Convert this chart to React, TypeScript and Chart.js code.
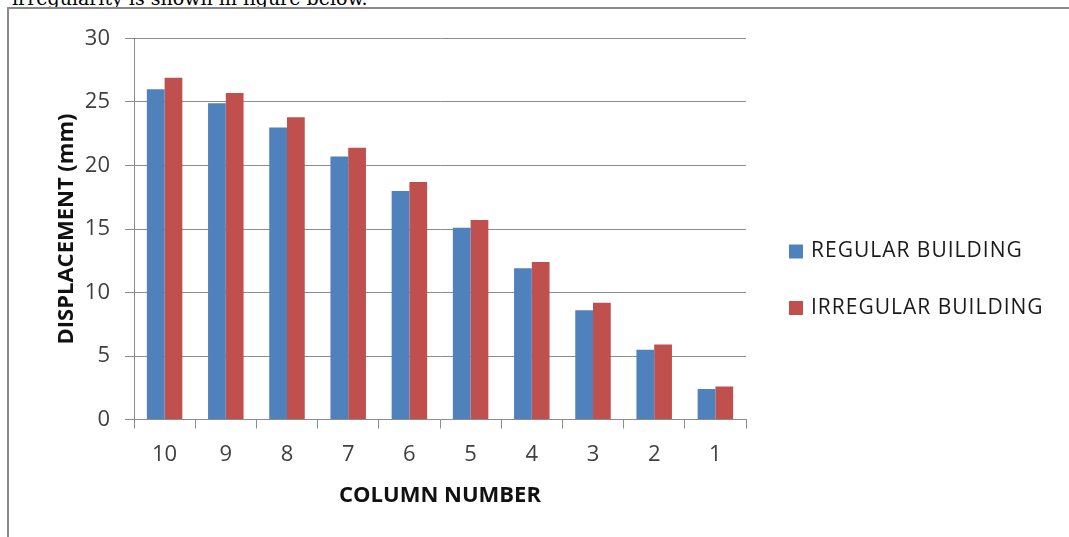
import React, { useEffect, useRef } from 'react';
import { Chart, registerables } from 'chart.js';

Chart.register(...registerables);

const categories = ['10', '9', '8', '7', '6', '5', '4', '3', '2', '1'];
const regularBuilding = [26.0, 24.9, 23.0, 20.7, 18.0, 15.1, 11.9, 8.6, 5.5, 2.4];
const irregularBuilding = [26.9, 25.7, 23.8, 21.4, 18.7, 15.7, 12.4, 9.2, 5.9, 2.6];
const seriesLabels = ['REGULAR BUILDING', 'IRREGULAR BUILDING'];
const seriesColors = ['#4F81BD', '#C0504D'];
const yAxisTitle = 'DISPLACEMENT (mm)';
const xAxisTitle = 'COLUMN NUMBER';
const yMin = 0;
const yMax = 30;
const yStep = 5;
const captionText = 'irregularity is shown in figure below.';

const FONT = '"Open Sans", "DejaVu Sans", sans-serif';
const GRID = '#8c8c8c';

const sideLegend = {
  id: 'sideLegend',
  afterDraw(chart: any) {
    const { ctx, chartArea } = chart;
    const x0 = chartArea.right + 43;
    const mid = (chartArea.top + chartArea.bottom) / 2;
    const rows = [mid + 22.5, mid + 79];
    ctx.save();
    ctx.font = `21px ${FONT}`;
    ctx.textBaseline = 'middle';
    ctx.textAlign = 'left';
    try {
      (ctx as any).letterSpacing = '1px';
    } catch (e) {
      /* ignore */
    }
    chart.data.datasets.forEach((d: any, i: number) => {
      ctx.fillStyle = d.backgroundColor;
      ctx.fillRect(x0, rows[i] - 7, 14, 14);
      ctx.fillStyle = '#1a1a1a';
      ctx.fillText(d.label, x0 + 22, rows[i]);
    });
    ctx.restore();
  },
};

export default function App() {
  const canvasRef = useRef<HTMLCanvasElement | null>(null);

  useEffect(() => {
    const canvas = canvasRef.current;
    if (!canvas) return;
    const chart = new Chart(canvas, {
      type: 'bar',
      data: {
        labels: categories,
        datasets: [
          {
            label: seriesLabels[0],
            data: regularBuilding,
            backgroundColor: seriesColors[0],
            categoryPercentage: 0.58,
            barPercentage: 1.0,
          },
          {
            label: seriesLabels[1],
            data: irregularBuilding,
            backgroundColor: seriesColors[1],
            categoryPercentage: 0.58,
            barPercentage: 1.0,
          },
        ],
      },
      options: {
        animation: false,
        responsive: false,
        maintainAspectRatio: false,
        devicePixelRatio: 1,
        layout: { padding: { left: 54, right: 323, top: 38.5, bottom: 28.5 } },
        plugins: {
          legend: { display: false },
          tooltip: { enabled: false },
        },
        scales: {
          x: {
            grid: {
              display: true,
              drawOnChartArea: false,
              drawTicks: true,
              tickLength: 9,
              color: GRID,
              lineWidth: 1,
            },
            border: { display: true, color: GRID, width: 1 },
            ticks: {
              font: { family: FONT, size: 22 },
              color: '#404040',
              padding: 13,
              maxRotation: 0,
              autoSkip: false,
            },
            title: {
              display: true,
              text: xAxisTitle,
              font: { family: FONT, size: 22, weight: 'bold' },
              color: '#111111',
              padding: 0,
            },
            afterFit(scale: any) {
              scale.height = 89;
            },
          },
          y: {
            min: yMin,
            max: yMax,
            ticks: {
              stepSize: yStep,
              font: { family: FONT, size: 22 },
              color: '#404040',
              padding: 15,
            },
            grid: {
              color: GRID,
              lineWidth: 1,
              tickLength: 9,
            },
            border: { display: true, color: GRID, width: 1 },
            title: {
              display: true,
              text: yAxisTitle,
              font: { family: FONT, size: 22, weight: 'bold' },
              color: '#111111',
              padding: 0,
            },
            afterFit(scale: any) {
              scale.width = 80;
            },
          },
        },
      },
      plugins: [sideLegend],
    } as any);
    return () => chart.destroy();
  }, []);

  return (
    <div style={{ position: 'fixed', left: 0, top: 0, width: 1069, height: 537, background: '#ffffff', overflow: 'hidden' }}>
      <div style={{ position: 'absolute', left: 0, top: 0, width: 1069, height: 7, overflow: 'hidden' }}>
        <div
          style={{
            position: 'absolute',
            left: 12,
            top: -12.5,
            fontFamily: '"DejaVu Serif", serif',
            fontSize: 19,
            lineHeight: '20px',
            whiteSpace: 'nowrap',
            color: '#000',
          }}
        >
          {captionText}
        </div>
      </div>
      <canvas ref={canvasRef} width={1069} height={537} style={{ position: 'absolute', left: 0, top: 0, width: 1069, height: 537, display: 'block' }} />
      <div
        style={{
          position: 'absolute',
          left: 7,
          top: 7,
          right: 0,
          bottom: 0,
          borderLeft: '2px solid #8a8a8a',
          borderTop: '2px solid #8a8a8a',
          pointerEvents: 'none',
        }}
      />
    </div>
  );
}
